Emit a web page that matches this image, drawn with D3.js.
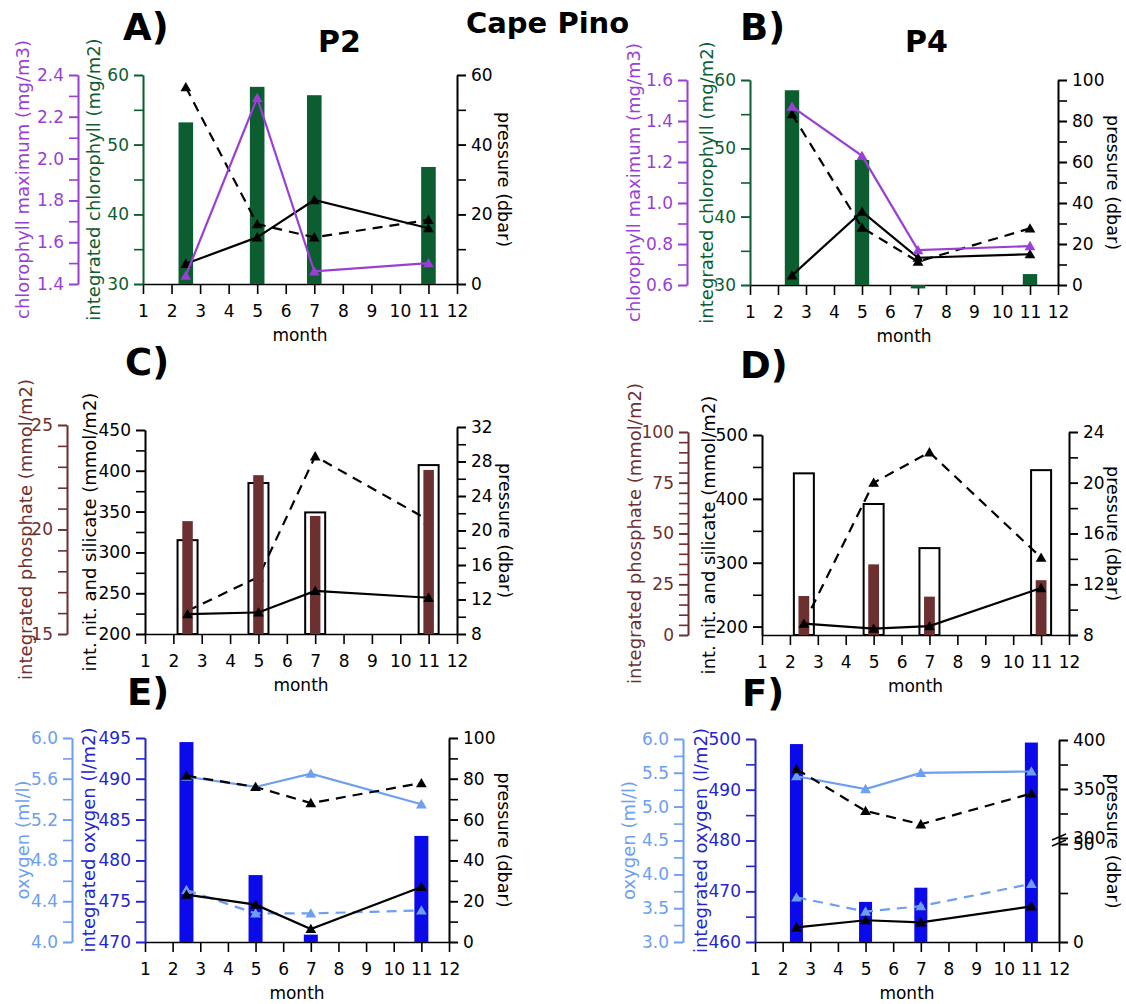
<!DOCTYPE html>
<html>
<head>
<meta charset="utf-8">
<script src="https://cdn.jsdelivr.net/npm/d3@7"></script>
<style>
  body { margin: 0; background: #fff; }
  svg text { font-family: "DejaVu Sans", Verdana, sans-serif; }
</style>
</head>
<body>
<div id="chart"></div>
<script>
// ---- data ----
const months = [2.5, 5, 7, 11];
const monthTicks = [1, 2, 3, 4, 5, 6, 7, 8, 9, 10, 11, 12];

// P2 chlorophyll
const chlIntP2 = [53.2, 58.3, 57.1, 46.8];
const chlMaxP2 = [1.44, 2.29, 1.46, 1.50];
const chlDepthP2 = [5.8, 13.4, 24.1, 16.0];
const mldP2 = [56.5, 17.2, 13.4, 18.4];

// P4 chlorophyll
const chlIntP4 = [58.5, 48.3, 29.5, 31.6];
const chlMaxP4 = [1.47, 1.23, 0.77, 0.79];
const chlDepthP4 = [4.7, 35.8, 13.3, 15.0];
const mldP4 = [83.3, 28.0, 11.4, 27.6];

// P2 nutrients
const nitSilP2 = [315, 385, 349, 407];
const phosP2 = [20.4, 22.6, 20.65, 22.85];
const nutSolidP2 = [10.3, 10.5, 13.0, 12.2];
const nutDashP2 = [10.7, 14.6, 28.6, 21.2];

// P4 nutrients
const nitSilP4 = [440, 392, 323, 445];
const phosP4 = [19.2, 34.8, 18.9, 27.0];
const nutSolidP4 = [8.9, 8.5, 8.7, 11.7];
const nutDashP4 = [8.9, 20.0, 22.4, 14.1];

// P2 oxygen
const oxIntP2 = [494.5, 478.2, 470.9, 483.0];
const oxMaxP2 = [5.62, 5.52, 5.65, 5.35];
const oxMinP2 = [4.51, 4.28, 4.28, 4.31];
const oxMaxDepthP2 = [81.5, 76.0, 68.1, 77.9];
const oxMinDepthP2 = [23.2, 18.3, 6.4, 27.0];

// P4 oxygen
const oxIntP4 = [499.0, 467.9, 470.7, 499.3];
const oxMaxP4 = [5.45, 5.26, 5.50, 5.52];
const oxMinP4 = [3.66, 3.45, 3.53, 3.86];
const oxMaxDepthP4 = [370.3, 327.6, 314.0, 345.4];
const oxMinDepthP4 = [7.5, 11.1, 10.0, 18.2];

// ---- colours ----
const PURPLE = "#9a3fd4";
const GREEN = "#0c5e30";
const BROWN = "#6d3030";
const BLUE = "#0a0aea";
const NAVY = "#2525d0";
const LBLUE = "#6d9ef0";
const BLACK = "#000";

const f1 = d3.format(".1f");

const svg = d3.select("#chart").append("svg")
    .attr("width", 1126)
    .attr("height", 1004);

function paint(sel, color) {
    sel.attr("font-size", 17).attr("font-family", '"DejaVu Sans", Verdana, sans-serif');
    sel.select(".domain").attr("stroke", color).attr("stroke-width", 1.6);
    sel.selectAll(".tick line").attr("stroke", color).attr("stroke-width", 1.6);
    sel.selectAll(".tick text").attr("fill", color);
}

function yAxis(g, ax) {
    const make = ax.side === "left" ? d3.axisLeft : d3.axisRight;
    const minor = g.append("g")
        .attr("transform", `translate(${ax.x},0)`)
        .call(make(ax.scale).tickValues(ax.minor).tickSize(9).tickSizeOuter(0).tickFormat(""));
    paint(minor, ax.color);
    const major = g.append("g")
        .attr("transform", `translate(${ax.x},0)`)
        .call(make(ax.scale).tickValues(ax.major).tickSize(9).tickSizeOuter(0)
            .tickPadding(5).tickFormat(ax.fmt || d3.format("d")));
    paint(major, ax.color);

    const r = ax.scale.range();
    const cy = (r[0] + r[r.length - 1]) / 2;
    g.append("text")
        .attr("transform", `translate(${ax.tx},${cy}) rotate(${ax.side === "left" ? -90 : 90})`)
        .attr("text-anchor", "middle")
        .attr("dominant-baseline", "central")
        .attr("font-size", ax.side === "left" ? 18 : 17.5)
        .attr("fill", ax.color)
        .text(ax.title);
}

function xAxis(g, x, yb) {
    const a = g.append("g")
        .attr("transform", `translate(0,${yb})`)
        .call(d3.axisBottom(x).tickValues(monthTicks).tickSize(10).tickSizeOuter(0).tickPadding(11));
    paint(a, BLACK);
    g.append("text")
        .attr("x", (x.range()[0] + x.range()[1]) / 2)
        .attr("y", yb + 57)
        .attr("text-anchor", "middle")
        .attr("font-size", 17)
        .text("month");
}

function drawBars(g, x, y, layer) {
    const base = y(y.domain()[0]);
    g.append("g").selectAll("rect")
        .data(layer.values)
        .join("rect")
        .attr("x", (d, i) => x(months[i]) - layer.w / 2)
        .attr("y", d => Math.min(y(d), base))
        .attr("width", layer.w)
        .attr("height", d => Math.abs(base - y(d)))
        .attr("fill", layer.fill)
        .attr("stroke", layer.stroke || "none")
        .attr("stroke-width", layer.stroke ? 2 : 0);
}

function drawLine(g, x, y, layer) {
    const pts = layer.values.map((v, i) => [x(months[i]), y(v)]);
    g.append("path")
        .attr("d", d3.line()(pts))
        .attr("fill", "none")
        .attr("stroke", layer.color)
        .attr("stroke-width", 2.2)
        .attr("stroke-dasharray", layer.dash ? "10,7" : null);
    g.append("g").selectAll("path")
        .data(pts)
        .join("path")
        .attr("transform", d => `translate(${d[0]},${d[1] + 1})`)
        .attr("d", d3.symbol(d3.symbolTriangle, 50)())
        .attr("fill", layer.color);
}

function drawPanel(p) {
    const g = svg.append("g");
    const x = d3.scaleLinear().domain([1, 12]).range([p.x0, p.x1]);
    const scales = {};
    p.axes.forEach(ax => {
        ax.scale = d3.scaleLinear().domain(ax.domain).range(ax.range);
        scales[ax.id] = ax.scale;
    });
    xAxis(g, x, p.yb);
    p.axes.forEach(ax => yAxis(g, ax));
    p.layers.forEach(l => {
        if (l.kind === "bar") drawBars(g, x, scales[l.axis], l);
        else drawLine(g, x, scales[l.axis], l);
    });
    if (p.breakY) {
        // broken pressure axis mark
        [-3, 3].forEach(dy => {
            g.append("line")
                .attr("x1", p.x1 - 7).attr("y1", p.breakY + dy + 3)
                .attr("x2", p.x1 + 7).attr("y2", p.breakY + dy - 3)
                .attr("stroke", BLACK).attr("stroke-width", 1.5);
        });
    }
    g.append("text")
        .attr("x", p.label[1]).attr("y", p.label[2])
        .attr("font-family", '"DejaVu Sans Condensed", "DejaVu Sans", sans-serif')
        .attr("font-weight", "bold")
        .attr("font-size", 37)
        .text(p.label[0]);
}

const panels = [
    { // A
        x0: 143, x1: 457, yb: 284, label: ["A)", 123, 40],
        axes: [
            { id: "max", domain: [1.4, 2.4], range: [284, 75], x: 78, side: "left",
              major: d3.range(1.4, 2.41, 0.2), minor: d3.range(1.4, 2.41, 0.1), fmt: f1,
              color: PURPLE, title: "chlorophyll maximum (mg/m3)", tx: 22 },
            { id: "int", domain: [30, 60], range: [284, 75], x: 143, side: "left",
              major: [30, 40, 50, 60], minor: d3.range(30, 61, 5),
              color: GREEN, title: "integrated chlorophyll (mg/m2)", tx: 93 },
            { id: "p", domain: [0, 60], range: [284, 75], x: 457, side: "right",
              major: [0, 20, 40, 60], minor: d3.range(0, 61, 10),
              color: BLACK, title: "pressure (dbar)", tx: 504 }
        ],
        layers: [
            { kind: "bar", axis: "int", values: chlIntP2, w: 14.6, fill: GREEN },
            { kind: "line", axis: "p", values: mldP2, color: BLACK, dash: true },
            { kind: "line", axis: "p", values: chlDepthP2, color: BLACK },
            { kind: "line", axis: "max", values: chlMaxP2, color: PURPLE }
        ]
    },
    { // B
        x0: 750, x1: 1058, yb: 285, label: ["B)", 740, 40],
        axes: [
            { id: "max", domain: [0.6, 1.6], range: [285, 80], x: 687, side: "left",
              major: d3.range(0.6, 1.61, 0.2), minor: d3.range(0.6, 1.61, 0.1), fmt: f1,
              color: PURPLE, title: "chlorophyll maximum (mg/m3)", tx: 633 },
            { id: "int", domain: [30, 60], range: [285, 80], x: 750, side: "left",
              major: [30, 40, 50, 60], minor: d3.range(30, 61, 5),
              color: GREEN, title: "integrated chlorophyll (mg/m2)", tx: 706 },
            { id: "p", domain: [0, 100], range: [285, 80], x: 1058, side: "right",
              major: d3.range(0, 101, 20), minor: d3.range(0, 101, 10),
              color: BLACK, title: "pressure (dbar)", tx: 1113 }
        ],
        layers: [
            { kind: "bar", axis: "int", values: chlIntP4, w: 14.4, fill: GREEN },
            { kind: "line", axis: "p", values: mldP4, color: BLACK, dash: true },
            { kind: "line", axis: "p", values: chlDepthP4, color: BLACK },
            { kind: "line", axis: "max", values: chlMaxP4, color: PURPLE }
        ]
    },
    { // C
        x0: 145, x1: 457, yb: 634, label: ["C)", 125, 375],
        axes: [
            { id: "po4", domain: [15, 25], range: [634, 425], x: 67, side: "left",
              major: [15, 20, 25], minor: d3.range(15, 25.1, 1),
              color: BROWN, title: "integrated phosphate (mmol/m2)", tx: 25 },
            { id: "ns", domain: [200, 450], range: [634, 430], x: 145, side: "left",
              major: d3.range(200, 451, 50), minor: d3.range(200, 451, 25),
              color: BLACK, title: "int. nit. and silicate (mmol/m2)", tx: 89 },
            { id: "p", domain: [8, 32], range: [634, 427], x: 457, side: "right",
              major: d3.range(8, 33, 4), minor: d3.range(8, 33, 2),
              color: BLACK, title: "pressure (dbar)", tx: 505 }
        ],
        layers: [
            { kind: "bar", axis: "ns", values: nitSilP2, w: 20, fill: "#fff", stroke: BLACK },
            { kind: "line", axis: "p", values: nutDashP2, color: BLACK, dash: true },
            { kind: "bar", axis: "po4", values: phosP2, w: 10.5, fill: BROWN },
            { kind: "line", axis: "p", values: nutSolidP2, color: BLACK }
        ]
    },
    { // D
        x0: 762, x1: 1069, yb: 635, label: ["D)", 740, 378],
        axes: [
            { id: "po4", domain: [0, 100], range: [635, 432], x: 688, side: "left",
              major: d3.range(0, 101, 25), minor: d3.range(0, 101, 5),
              color: BROWN, title: "integrated phosphate (mmol/m2)", tx: 634 },
            { id: "ns", domain: [187, 500], range: [635, 435], x: 762, side: "left",
              major: d3.range(200, 501, 100), minor: d3.range(200, 501, 50),
              color: BLACK, title: "int. nit. and silicate (mmol/m2)", tx: 708 },
            { id: "p", domain: [8, 24], range: [635, 432], x: 1069, side: "right",
              major: d3.range(8, 25, 4), minor: d3.range(8, 25, 2),
              color: BLACK, title: "pressure (dbar)", tx: 1113 }
        ],
        layers: [
            { kind: "bar", axis: "ns", values: nitSilP4, w: 20, fill: "#fff", stroke: BLACK },
            { kind: "line", axis: "p", values: nutDashP4, color: BLACK, dash: true },
            { kind: "bar", axis: "po4", values: phosP4, w: 10.8, fill: BROWN },
            { kind: "line", axis: "p", values: nutSolidP4, color: BLACK }
        ]
    },
    { // E
        x0: 145, x1: 449, yb: 942, label: ["E)", 127, 705],
        axes: [
            { id: "ox", domain: [4, 6], range: [942, 738], x: 72, side: "left",
              major: d3.range(4, 6.01, 0.4), minor: d3.range(4, 6.01, 0.2), fmt: f1,
              color: LBLUE, title: "oxygen (ml/l)", tx: 22 },
            { id: "int", domain: [470, 495], range: [942, 738], x: 145, side: "left",
              major: d3.range(470, 496, 5), minor: d3.range(470, 496, 2.5),
              color: NAVY, title: "integrated oxygen (l/m2)", tx: 88 },
            { id: "p", domain: [0, 100], range: [942, 738], x: 449, side: "right",
              major: d3.range(0, 101, 20), minor: d3.range(0, 101, 10),
              color: BLACK, title: "pressure (dbar)", tx: 504 }
        ],
        layers: [
            { kind: "bar", axis: "int", values: oxIntP2, w: 14, fill: BLUE },
            { kind: "line", axis: "ox", values: oxMaxP2, color: LBLUE },
            { kind: "line", axis: "ox", values: oxMinP2, color: LBLUE, dash: true },
            { kind: "line", axis: "p", values: oxMaxDepthP2, color: BLACK, dash: true },
            { kind: "line", axis: "p", values: oxMinDepthP2, color: BLACK }
        ]
    },
    { // F
        x0: 755, x1: 1059, yb: 942, label: ["F)", 742, 706], breakY: 840,
        axes: [
            { id: "ox", domain: [3, 6], range: [942, 739], x: 683, side: "left",
              major: d3.range(3, 6.01, 0.5), minor: d3.range(3, 6.01, 0.25), fmt: f1,
              color: LBLUE, title: "oxygen (ml/l)", tx: 628 },
            { id: "int", domain: [460, 500], range: [942, 739], x: 755, side: "left",
              major: d3.range(460, 501, 10), minor: d3.range(460, 501, 5),
              color: NAVY, title: "integrated oxygen (l/m2)", tx: 700 },
            { id: "p", domain: [0, 50, 300, 400], range: [942, 844, 838, 740], x: 1059, side: "right",
              major: [0, 50, 300, 350, 400], minor: [0, 25, 50, 300, 325, 350, 375, 400],
              color: BLACK, title: "pressure (dbar)", tx: 1113 }
        ],
        layers: [
            { kind: "bar", axis: "int", values: oxIntP4, w: 13, fill: BLUE },
            { kind: "line", axis: "ox", values: oxMaxP4, color: LBLUE },
            { kind: "line", axis: "ox", values: oxMinP4, color: LBLUE, dash: true },
            { kind: "line", axis: "p", values: oxMaxDepthP4, color: BLACK, dash: true },
            { kind: "line", axis: "p", values: oxMinDepthP4, color: BLACK }
        ]
    }
];

panels.forEach(drawPanel);

// headings
svg.append("text").attr("x", 318).attr("y", 52)
    .attr("font-weight", "bold").attr("font-size", 30).text("P2");
svg.append("text").attr("x", 905).attr("y", 52)
    .attr("font-weight", "bold").attr("font-size", 30).text("P4");
svg.append("text").attr("x", 466).attr("y", 33)
    .attr("font-weight", "bold").attr("font-size", 29).text("Cape Pino");
</script>
</body>
</html>
